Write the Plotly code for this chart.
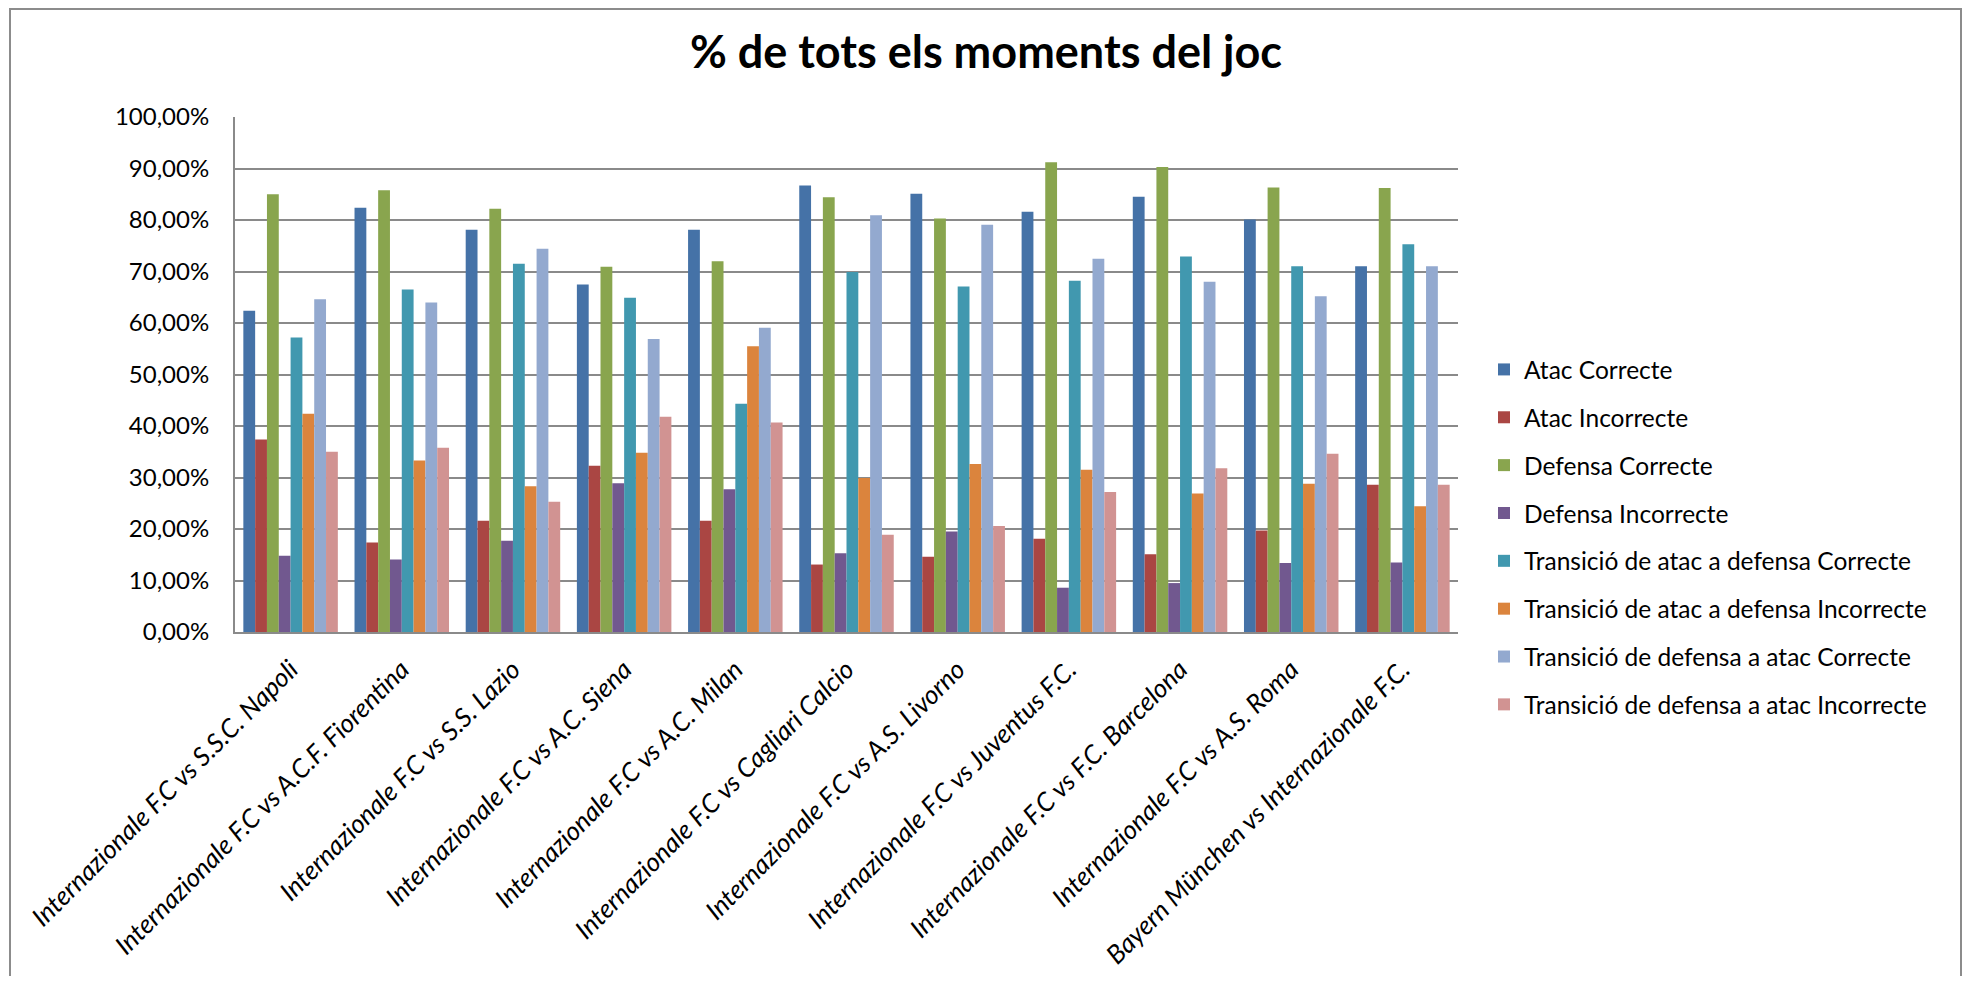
import plotly.graph_objects as go

categories = [
    "Internazionale F.C vs S.S.C. Napoli",
    "Internazionale F.C vs A.C.F. Fiorentina",
    "Internazionale F.C vs S.S. Lazio",
    "Internazionale F.C vs A.C. Siena",
    "Internazionale F.C vs A.C. Milan",
    "Internazionale F.C vs Cagliari Calcio",
    "Internazionale F.C vs A.S. Livorno",
    "Internazionale F.C vs Juventus F.C.",
    "Internazionale F.C vs F.C. Barcelona",
    "Internazionale F.C vs A.S. Roma",
    "Bayern München vs Internazionale F.C.",
]

atac_correcte = [62.4, 82.4, 78.1, 67.5, 78.1, 86.7, 85.1, 81.6, 84.5, 80.1, 71.0]
atac_incorrecte = [37.4, 17.4, 21.6, 32.3, 21.6, 13.1, 14.6, 18.1, 15.1, 19.7, 28.6]
defensa_correcte = [85.0, 85.8, 82.2, 70.9, 72.0, 84.4, 80.3, 91.2, 90.3, 86.3, 86.2]
defensa_incorrecte = [14.8, 14.1, 17.7, 28.9, 27.7, 15.3, 19.5, 8.6, 9.5, 13.4, 13.5]
tad_correcte = [57.2, 66.5, 71.5, 64.9, 44.3, 69.9, 67.1, 68.2, 72.9, 71.0, 75.3]
tad_incorrecte = [42.4, 33.3, 28.3, 34.8, 55.5, 29.9, 32.6, 31.5, 26.9, 28.8, 24.4]
tda_correcte = [64.6, 64.0, 74.4, 56.9, 59.1, 80.9, 79.1, 72.5, 68.0, 65.2, 71.0]
tda_incorrecte = [35.0, 35.8, 25.3, 41.8, 40.7, 18.9, 20.6, 27.2, 31.8, 34.6, 28.6]

series_names = [
    "Atac Correcte",
    "Atac Incorrecte",
    "Defensa Correcte",
    "Defensa Incorrecte",
    "Transició de atac a defensa Correcte",
    "Transició de atac a defensa Incorrecte",
    "Transició de defensa a atac Correcte",
    "Transició de defensa a atac Incorrecte",
]
series_values = [atac_correcte, atac_incorrecte, defensa_correcte, defensa_incorrecte,
                 tad_correcte, tad_incorrecte, tda_correcte, tda_incorrecte]
series_colors = ["#4572A7", "#AA4643", "#89A54E", "#71588F",
                 "#4198AF", "#DB843D", "#93A9CF", "#D19392"]

y_tick_values = [0, 10, 20, 30, 40, 50, 60, 70, 80, 90, 100]
y_tick_labels = ["0,00%", "10,00%", "20,00%", "30,00%", "40,00%", "50,00%",
                 "60,00%", "70,00%", "80,00%", "90,00%", "100,00%"]

OFF = 8  # default page body margin
W, H = 1971 - 2 * OFF, 984 - 2 * OFF
# plot area in screen pixels
SL, SR, ST, SB = 235, 1458, 117, 632
L, R, T, B = SL - OFF, SR - OFF, ST - OFF, SB - OFF

fig = go.Figure()
for i, (name, vals, col) in enumerate(zip(series_names, series_values, series_colors)):
    fig.add_trace(go.Bar(x=categories, y=vals, name=name, marker_color=col,
                         marker_line_width=0, legendgroup=f"g{i}"))

def px_x(sx):
    return (sx - OFF - L) / (R - L)

def px_y(sy):
    return (B - (sy - OFF)) / (B - T)

fig.update_layout(
    width=W, height=H,
    margin=dict(l=L, r=W - R, t=T, b=H - B, pad=0),
    paper_bgcolor="white", plot_bgcolor="white",
    font=dict(family="Lato", color="black", size=22),
    bargap=0.15, bargroupgap=0,
    title=dict(text="<b>% de tots els moments del joc</b>", x=(986 - OFF) / W,
               xref="container", xanchor="center",
               y=1 - (52 - OFF) / H, yref="container", yanchor="middle",
               font=dict(family="Lato", size=45, color="black")),
    showlegend=True,
    legend=dict(x=px_x(1484), y=px_y(347), xanchor="left", yanchor="top",
                font=dict(family="Lato", size=24.5, color="black"),
                tracegroupgap=13, bgcolor="rgba(0,0,0,0)"),
    shapes=[dict(type="rect", xref="paper", yref="paper",
                 x0=px_x(10), x1=px_x(1961), y0=px_y(1000), y1=px_y(9),
                 line=dict(color="#8c8c8c", width=2), fillcolor="rgba(0,0,0,0)",
                 layer="below")],
)

fig.update_yaxes(range=[0, 100], tickvals=y_tick_values, ticktext=y_tick_labels,
                 showgrid=True, gridcolor="#8a8a8a", gridwidth=2,
                 showline=True, linecolor="#8a8a8a", linewidth=2,
                 zeroline=False, ticks="", ticklabelstandoff=19, automargin=False,
                 tickfont=dict(family="Lato", size=24, color="black"))
fig.update_xaxes(tickangle=-45, showgrid=False, showline=True,
                 linecolor="#8a8a8a", linewidth=2, ticks="",
                 ticklabelstandoff=10, automargin=False,
                 tickfont=dict(family="Lato", size=26, color="black", style="italic"))

fig.write_html("out.html")
